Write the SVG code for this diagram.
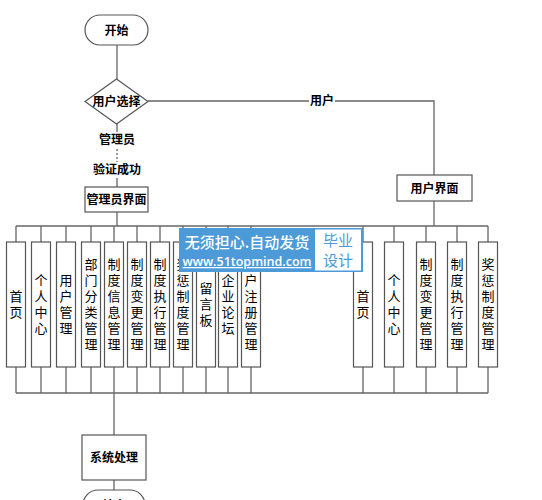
<svg xmlns="http://www.w3.org/2000/svg" width="542" height="500" viewBox="0 0 542 500">
<style>
.n{fill:#fff;stroke:#555;stroke-width:1.2}
.c{fill:none;stroke:#666;stroke-width:1.3}
.b{font-family:"Noto Sans CJK SC","Liberation Sans",sans-serif;font-weight:bold;font-size:12px;fill:#000;text-anchor:middle}
.v{font-family:"Noto Sans CJK SC","Liberation Sans",sans-serif;font-size:13px;fill:#000;text-anchor:middle;writing-mode:vertical-rl;letter-spacing:3px}
</style>
<rect width="542" height="500" fill="#fff"/>
<g id="connectors">
<path class="c" d="M117,45V79"/>
<path class="c" d="M148,101H434V175"/>
<path class="c" d="M434,201V226"/>
<path class="c" d="M117,124V132M117,178V187"/>
<path class="c" d="M117,149V162" stroke-dasharray="2,2"/>
<path class="c" d="M117,212V226"/>
<path class="c" d="M16,226H488"/>
<path class="c" d="M16,226V242M41,226V242M66,226V242M91,226V242M114,226V242M137,226V242M160,226V242M183,226V242M206,226V242M228,226V242M251,226V242M363,226V242M394,226V242M426,226V242M457,226V242M488,226V242"/>
<path class="c" d="M16,367V393M41,367V393M66,367V393M91,367V393M114,367V393M137,367V393M160,367V393M183,367V393M206,367V393M228,367V393M251,367V393M363,367V393M394,367V393M426,367V393M457,367V393M488,367V393"/>
<path class="c" d="M16,393H488"/>
<path class="c" d="M114,393V435M114,480V490"/>
<rect x="309" y="94" width="26" height="14" fill="#fff"/>
<text class="b" x="322" y="105">用户</text>
<text class="b" x="117" y="144">管理员</text>
<text class="b" x="117" y="174">验证成功</text>
</g>
<g id="start"><rect class="n" x="85" y="15" width="63" height="30" rx="15"/><text class="b" x="116.5" y="35" font-size="13">开始</text></g>
<g id="choice"><polygon class="n" points="116.5,79 148,101.5 116.5,124 85,101.5"/><text class="b" x="116.5" y="106">用户选择</text></g>
<g id="user-ui"><rect class="n" x="397" y="175" width="75" height="26"/><text class="b" x="434.5" y="192.5">用户界面</text></g>
<g id="admin-ui"><rect class="n" x="85" y="187" width="63" height="25"/><text class="b" x="116.5" y="204" font-size="11.5">管理员界面</text></g>

<g id="a1"><rect class="n" x="6.5" y="242" width="19" height="125"/><text class="v" x="16" y="306">首页</text></g>
<g id="a2"><rect class="n" x="31.5" y="242" width="19" height="125"/><text class="v" x="41" y="306" letter-spacing="2">个人中心</text></g>
<g id="a3"><rect class="n" x="56.5" y="242" width="19" height="125"/><text class="v" x="66" y="306">用户管理</text></g>
<g id="a4"><rect class="n" x="81.5" y="242" width="19" height="125"/><text class="v" x="91" y="306">部门分类管理</text></g>
<g id="a5"><rect class="n" x="104.5" y="242" width="19" height="125"/><text class="v" x="114" y="306">制度信息管理</text></g>
<g id="a6"><rect class="n" x="127.5" y="242" width="19" height="125"/><text class="v" x="137" y="306">制度变更管理</text></g>
<g id="a7"><rect class="n" x="150.5" y="242" width="19" height="125"/><text class="v" x="160" y="306">制度执行管理</text></g>
<g id="a8"><rect class="n" x="173.5" y="242" width="19" height="125"/><text class="v" x="183" y="306">奖惩制度管理</text></g>
<g id="a9"><rect class="n" x="196.5" y="242" width="19" height="125"/><text class="v" x="206" y="306">留言板</text></g>
<g id="a10"><rect class="n" x="218.5" y="242" width="19" height="125"/><text class="v" x="228" y="306">企业论坛</text></g>
<g id="a11"><rect class="n" x="241.5" y="242" width="19" height="125"/><text class="v" x="251" y="306">用户注册管理</text></g>

<g id="u1"><rect class="n" x="353.5" y="242" width="19" height="125"/><text class="v" x="363" y="306">首页</text></g>
<g id="u2"><rect class="n" x="384.5" y="242" width="19" height="125"/><text class="v" x="394" y="306" letter-spacing="2">个人中心</text></g>
<g id="u3"><rect class="n" x="416.5" y="242" width="19" height="125"/><text class="v" x="426" y="306">制度变更管理</text></g>
<g id="u4"><rect class="n" x="447.5" y="242" width="19" height="125"/><text class="v" x="457" y="306">制度执行管理</text></g>
<g id="u5"><rect class="n" x="478.5" y="242" width="19" height="125"/><text class="v" x="488" y="306">奖惩制度管理</text></g>

<g id="process"><rect class="n" x="82" y="435" width="64" height="45"/><text class="b" x="114" y="462">系统处理</text></g>
<g id="end"><rect class="n" x="83" y="490" width="62" height="30" rx="15"/><text class="b" x="114" y="510" font-size="13">结束</text></g>

<g id="watermark">
<rect x="179" y="228" width="184" height="44" fill="#4c9bd8"/>
<rect x="315" y="229.5" width="46" height="41" fill="#fff"/>
<text x="247" y="248" font-family="'Noto Sans CJK SC',sans-serif" font-size="15" font-weight="500" fill="#fff" text-anchor="middle">无须担心.自动发货</text>
<text x="247" y="266" font-family="'Open Sans','DejaVu Sans',sans-serif" font-size="12.5" font-weight="600" fill="#fff" text-anchor="middle" text-decoration="underline">www.51topmind.com</text>
<text x="338" y="246" font-family="'Noto Sans CJK SC',sans-serif" font-size="15" fill="#4c9bd8" text-anchor="middle">毕业</text>
<text x="338" y="266" font-family="'Noto Sans CJK SC',sans-serif" font-size="15" fill="#4c9bd8" text-anchor="middle">设计</text>
</g>
</svg>
